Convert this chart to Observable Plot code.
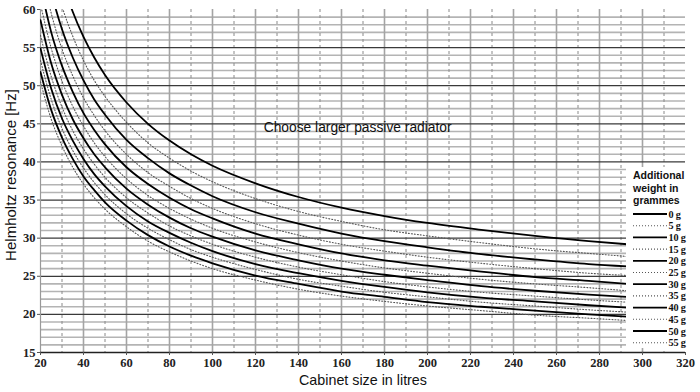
<!DOCTYPE html>
<html><head><meta charset="utf-8">
<script src="https://cdn.jsdelivr.net/npm/d3@7"></script>
<script src="https://cdn.jsdelivr.net/npm/@observablehq/plot@0.6"></script>
<style>
body{margin:0;background:#fff}
#wrap{position:relative;width:700px;height:392px;overflow:hidden}
#legend{position:absolute;left:626px;top:167px;width:62px;height:181px;background:#fff;overflow:visible}
#legend svg{overflow:visible}
[aria-label="x-axis tick label"], [aria-label="y-axis tick label"],
[aria-label="x-axis tick label"] text, [aria-label="y-axis tick label"] text{font-family:'Liberation Serif',serif !important;font-weight:bold;font-size:12.5px;fill:#222}
</style>
</head><body>
<div id="wrap"><div id="chart"></div><div id="legend"></div></div>
<script>
// Cabinet volumes (litres) at which the curves were read
const volumes = [20,25,30,35,40,45,50,60,70,80,90,100,120,140,160,180,200,225,250,275,293];
// Additional weight (grammes) for each curve
const weights = [0,5,10,15,20,25,30,35,40,45,50,55];
// Helmholtz resonance (Hz) for each weight, read at the volumes above
const hz0  = [76.7,69.3,63.9,59.7,56.4,53.7,51.4,47.8,45.0,42.8,41.0,39.5,37.2,35.4,34.0,32.9,32.0,31.1,30.3,29.6,29.2];
const hz5  = [72.5,65.5,60.4,56.5,53.3,50.7,48.6,45.2,42.5,40.5,38.8,37.4,35.2,33.5,32.2,31.1,30.3,29.4,28.6,28.0,27.6];
const hz10 = [68.9,62.3,57.4,53.7,50.7,48.2,46.2,42.9,40.5,38.5,36.9,35.5,33.4,31.9,30.6,29.6,28.8,27.9,27.2,26.6,26.3];
const hz15 = [65.8,59.5,54.8,51.3,48.4,46.1,44.1,41.0,38.6,36.8,35.2,33.9,31.9,30.4,29.2,28.3,27.5,26.7,26.0,25.4,25.1];
const hz20 = [63.1,57.0,52.6,49.2,46.4,44.2,42.3,39.3,37.1,35.3,33.8,32.6,30.6,29.2,28.0,27.1,26.4,25.6,24.9,24.4,24.0];
const hz25 = [60.7,54.9,50.6,47.3,44.7,42.5,40.7,37.8,35.6,33.9,32.5,31.3,29.5,28.1,27.0,26.1,25.4,24.6,24.0,23.5,23.1];
const hz30 = [58.6,52.9,48.8,45.6,43.1,41.0,39.3,36.5,34.4,32.7,31.3,30.2,28.4,27.1,26.0,25.2,24.5,23.7,23.1,22.6,22.3];
const hz35 = [56.6,51.2,47.2,44.1,41.7,39.7,38.0,35.3,33.3,31.6,30.3,29.2,27.5,26.2,25.2,24.3,23.6,22.9,22.4,21.9,21.6];
const hz40 = [54.9,49.6,45.7,42.8,40.4,38.4,36.8,34.2,32.2,30.7,29.4,28.3,26.6,25.4,24.4,23.6,22.9,22.2,21.7,21.2,20.9];
const hz45 = [53.3,48.2,44.4,41.5,39.2,37.3,35.7,33.2,31.3,29.8,28.5,27.5,25.9,24.6,23.7,22.9,22.3,21.6,21.1,20.6,20.3];
const hz50 = [51.8,46.8,43.2,40.4,38.1,36.3,34.7,32.3,30.4,28.9,27.7,26.7,25.1,24.0,23.0,22.3,21.6,21.0,20.5,20.0,19.7];
const hz55 = [50.5,45.6,42.1,39.3,37.1,35.3,33.8,31.5,29.6,28.2,27.0,26.0,24.5,23.3,22.4,21.7,21.1,20.5,19.9,19.5,19.2];

const xTicks = [20,40,60,80,100,120,140,160,180,200,220,240,260,280,300,320];
const xDashed = [30,50,70,90,110,130,150,170,190,210,230,250,270,290,310];
const xSolid = [40,60,80,100,120,140,160,180,200,220,240,260,280,300];
const yTicks = [15,20,25,30,35,40,45,50,55,60];
const yMajor = [20,25,30,35,40,45,50,55];
const yMinor = d3.range(16,60).filter(d => d % 5 !== 0);

const note = "Choose larger passive radiator";
const noteAt = {x: 167.5, y: 44.5};
const legendTitle = ["Additional", "weight in", "grammes"];

const allSeries = [hz0,hz5,hz10,hz15,hz20,hz25,hz30,hz35,hz40,hz45,hz50,hz55];
const rows = [];
allSeries.forEach((s, i) => s.forEach((f, j) => rows.push({v: volumes[j], f, w: weights[i], solid: i % 2 === 0})));

const sans = "'Liberation Sans', Arial, sans-serif";
const serif = "'Liberation Serif', serif";

const chart = Plot.plot({
  width: 700, height: 392,
  marginLeft: 40, marginRight: 15, marginTop: 9, marginBottom: 40,
  x: {domain: [20, 320]},
  y: {domain: [15, 60]},
  marks: [
    Plot.ruleY(yMinor, {stroke: "#b4b4b4", strokeWidth: 1.6}),
    Plot.ruleX(xSolid, {stroke: "#a4a4a4", strokeWidth: 1.6}),
    Plot.ruleX(xDashed, {stroke: "#8a8a8a", strokeWidth: 1, strokeDasharray: "3,3"}),
    Plot.ruleY(yMajor, {stroke: "#3a3a3a", strokeWidth: 1.3}),
    Plot.ruleX([20], {stroke: "#999", strokeWidth: 1.2}),
    Plot.ruleY([15], {stroke: "#222", strokeWidth: 1.3}),
    Plot.line(rows.filter(d => !d.solid), {x: "v", y: "f", z: "w", stroke: "#555", strokeWidth: 1.1, strokeDasharray: "1,2", curve: "monotone-x", clip: true}),
    Plot.line(rows.filter(d => d.solid), {x: "v", y: "f", z: "w", stroke: "#000", strokeWidth: 1.8, curve: "monotone-x", clip: true}),
    Plot.text([note], {x: () => noteAt.x, y: () => noteAt.y, text: d => d, fontFamily: sans, fontSize: 13.8, fill: "#111"}),
    Plot.axisX(xTicks, {tickSize: 3, tickPadding: 3, label: null, stroke: "#555", fontFamily: serif, fontWeight: "bold", fontSize: 12.5}),
    Plot.axisY(yTicks, {tickSize: 3, tickPadding: 2, label: null, stroke: "#555", fontFamily: serif, fontWeight: "bold", fontSize: 12.5}),
    Plot.text(["Cabinet size in litres"], {frameAnchor: "bottom", lineAnchor: "middle", textAnchor: "middle", dy: 28, fontFamily: sans, fontSize: 14.3, fill: "#111"}),
    Plot.text(["Helmholtz resonance [Hz]"], {frameAnchor: "left", textAnchor: "middle", lineAnchor: "middle", dx: -29, dy: -6, rotate: -90, fontFamily: sans, fontSize: 15, fill: "#111"})
  ]
});
document.getElementById("chart").appendChild(chart);

// Legend box (inside the plot area, right side)
const lg = d3.select("#legend").append("svg").attr("width", 62).attr("height", 181);
lg.selectAll("text.t").data(legendTitle).join("text").attr("class", "t")
  .attr("x", 7).attr("y", (d, i) => 12 + i * 12.5)
  .attr("font-family", sans).attr("font-weight", "bold")
  .attr("font-size", 10.5).attr("fill", "#111").text(d => d);
const row = lg.selectAll("g.r").data(weights).join("g").attr("class", "r")
  .attr("transform", (d, i) => `translate(0,${47 + i * 11.7})`);
row.append("line").attr("x1", 7).attr("x2", 41).attr("y1", 0).attr("y2", 0)
  .attr("stroke", (d, i) => i % 2 === 0 ? "#000" : "#555")
  .attr("stroke-width", (d, i) => i % 2 === 0 ? 1.8 : 1.1)
  .attr("stroke-dasharray", (d, i) => i % 2 === 0 ? null : "1,2");
row.append("text").attr("x", 42.5).attr("y", 0).attr("dy", "0.35em")
  .attr("font-family", serif).attr("font-weight", "bold")
  .attr("font-size", 10.2).attr("letter-spacing", "-0.2").attr("fill", "#111").text(d => `${d} g`);
</script>
</body></html>
